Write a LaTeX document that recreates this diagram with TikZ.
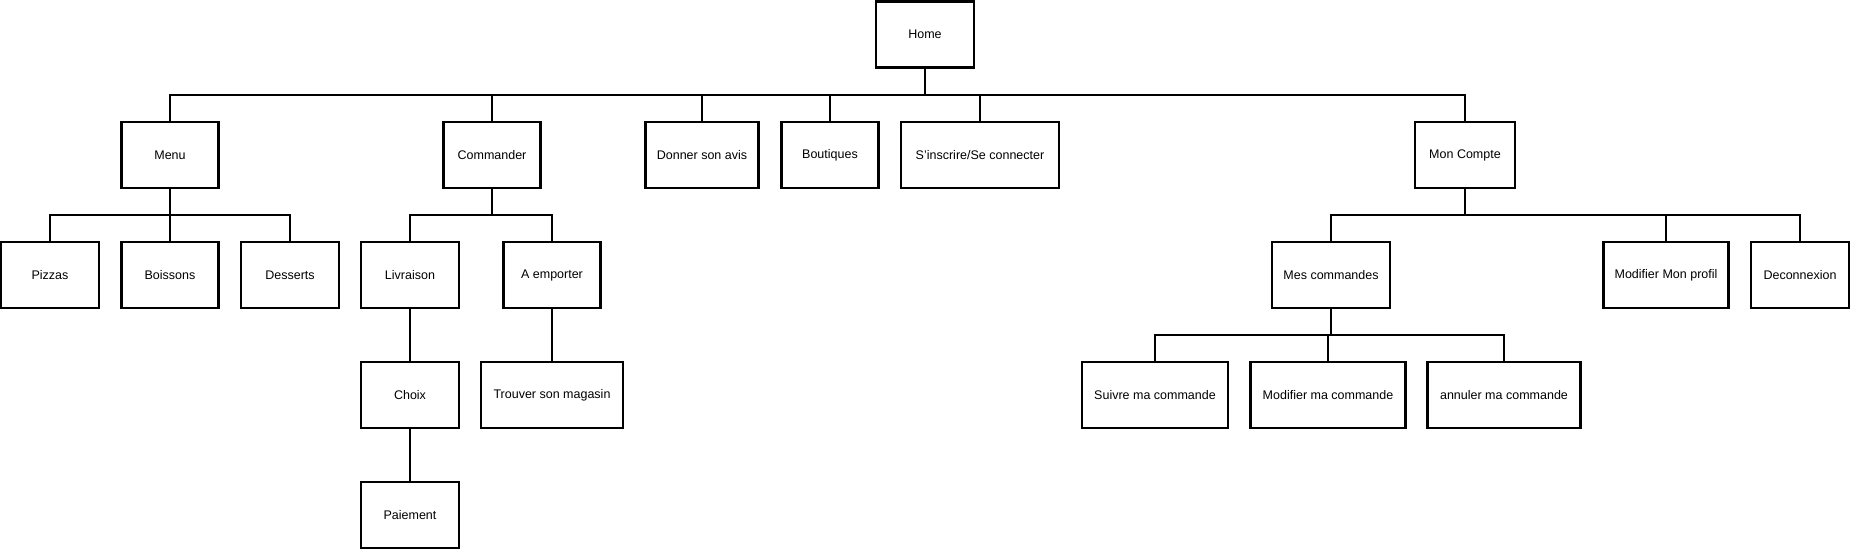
\documentclass[tikz,border=0pt]{standalone}
\usepackage{fontspec}
\setmainfont{Liberation Sans}
\begin{document}
\begin{tikzpicture}[x=1pt,y=-1pt,
  box/.style={draw=black,line width=2.2pt,fill=white,minimum width=#1,minimum height=66pt,inner sep=0pt,font=\fontsize{12.5}{14}\selectfont,text=black},
  box/.default=98pt,
  conn/.style={draw=black,line width=1.8pt}]
\useasboundingbox (0,0) rectangle (1850,550);
\fill[white] (0,0) rectangle (1850,550);
% level 0
\node[box] (home) at (925,34.5) {Home};
% level 1
\node[box=97pt] (menu) at (170,155) {Menu};
\node[box=97pt] (cmd) at (492,155) {Commander};
\node[box=113pt] (avis) at (702,155) {Donner son avis};
\node[box=97pt] (bout) at (830,155) {Boutiques};
\node[box=158pt] (insc) at (980,155) {S'inscrire/Se connecter};
\node[box=100pt] (compte) at (1465,155) {Mon Compte};
% level 2
\node[box] (pizzas) at (50,275) {Pizzas};
\node[box=97pt] (boissons) at (170,275) {Boissons};
\node[box] (desserts) at (290,275) {Desserts};
\node[box] (livr) at (410,275) {Livraison};
\node[box=97pt] (emp) at (552,275) {A emporter};
\node[box=118pt] (mescmd) at (1331,275) {Mes commandes};
\node[box=125pt] (profil) at (1666,275) {Modifier Mon profil};
\node[box] (deco) at (1800,275) {Deconnexion};
% level 3
\node[box] (choix) at (410,395) {Choix};
\node[box=142pt] (trouver) at (552,395) {Trouver son magasin};
\node[box=146pt] (suivre) at (1155,395) {Suivre ma commande};
\node[box=155pt] (modcmd) at (1328,395) {Modifier ma commande};
\node[box=153pt] (annuler) at (1504,395) {annuler ma commande};
% level 4
\node[box] (paie) at (410,515) {Paiement};
% bus coordinates
\coordinate (bhome) at (925,95);
\coordinate (bmenu) at (170,215);
\coordinate (bcmd) at (492,215);
\coordinate (bcompte) at (1465,215);
\coordinate (bmes) at (1331,335);
% connectors
\draw[conn] (home.south) -- (bhome);
\foreach \n in {menu,cmd,avis,bout,insc,compte} \draw[conn] (bhome) -| (\n.north);
\draw[conn] (menu.south) -- (bmenu);
\foreach \n in {pizzas,boissons,desserts} \draw[conn] (bmenu) -| (\n.north);
\draw[conn] (cmd.south) -- (bcmd);
\foreach \n in {livr,emp} \draw[conn] (bcmd) -| (\n.north);
\draw[conn] (compte.south) -- (bcompte);
\foreach \n in {mescmd,profil,deco} \draw[conn] (bcompte) -| (\n.north);
\draw[conn] (mescmd.south) -- (bmes);
\foreach \n in {suivre,modcmd,annuler} \draw[conn] (bmes) -| (\n.north);
\draw[conn] (livr.south) -- (choix.north);
\draw[conn] (choix.south) -- (paie.north);
\draw[conn] (emp.south) -- (trouver.north);
\end{tikzpicture}
\end{document}
